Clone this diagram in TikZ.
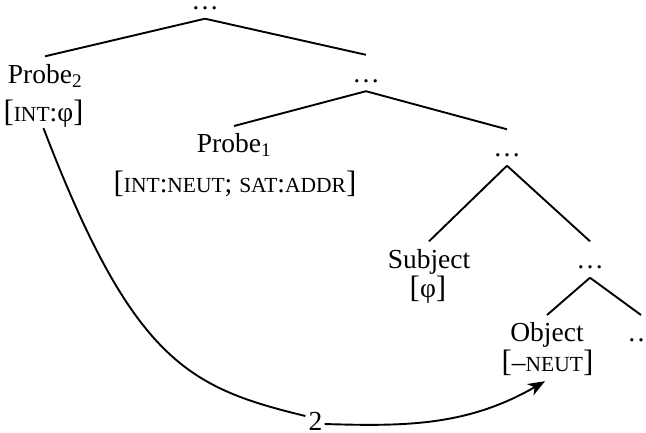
\documentclass[tikz,border=0pt]{standalone}
\usepackage{fontspec}
\setmainfont{Liberation Serif}
\usetikzlibrary{arrows.meta,calc}
% feature names are set in reduced capitals, inside slightly taller brackets
\newcommand\featsc[1]{{\fontsize{21.5bp}{24bp}\selectfont #1}}
\newcommand\fbra{{\fontsize{31bp}{33bp}\selectfont [}}
\newcommand\fket{{\fontsize{31bp}{33bp}\selectfont ]}}

\begin{document}
\begin{tikzpicture}[x=1bp,y=-1bp,
  every node/.style={font=\fontsize{27.5bp}{33bp}\selectfont, inner sep=0pt, anchor=base},
  lbl/.style={text height=26.5bp, text depth=0pt},
  dotnode/.style={text height=27bp, text depth=9bp},
  rootdots/.style={text height=3bp, text depth=9.5bp},
  feat/.style={text height=20bp, text depth=6bp},
  branch/.style={line width=1.9bp},
  agree/.style={line width=1.9bp},
  agreetip/.style={agree, -{Stealth[length=17bp,width=13bp,inset=5bp]}}]

\useasboundingbox (0,0) rectangle (646,432);
\clip (0,0) rectangle (646,432);

% tree labels (placed on their baselines)
\node[rootdots] (d1) at (205,9) {…};
\node[lbl] (p2) at (45,83) {Probe\textsubscript{2}};
\node[feat] (f2) at (43.5,121) {\fbra\featsc{INT}:φ\fket};
\node[dotnode] (d2) at (366,82) {…};
\node[lbl] (p1) at (234,152.7) {Probe\textsubscript{1}};
\node[feat] (f1) at (235,192.3) {\fbra\featsc{INT}:\featsc{NEUT}; \featsc{SAT}:\featsc{ADDR}\fket};
\node[dotnode] (d3) at (507,156.5) {…};
\node[lbl] (subj) at (429,268) {Subject};
\node[feat] (fs) at (428,297) {\fbra φ\fket};
\node[dotnode] (d4) at (590,268.5) {…};
\node[lbl] (obj) at (547,341.7) {Object};
\node[feat] (fo) at (547.5,371) {\fbra–\featsc{NEUT}\fket};
\node[lbl] (d5) at (641,341.7) {…};

% branches
\draw[branch] (d1.south) -- (p2.north);
\draw[branch] (d1.south) -- (d2.north);
\draw[branch] (d2.south) -- (p1.north);
\draw[branch] (d2.south) -- (d3.north);
\draw[branch] (d3.south) -- (subj.north);
\draw[branch] (d3.south) -- (d4.north);
\draw[branch] (d4.south) -- (obj.north);
\draw[branch] (d4.south) -- (d5.north);

% agreement arrow from the higher probe to the object, labelled 2
\node[anchor=center, inner xsep=2bp] (n2) at (315.5,421) {2};
\draw[agree] ($(f2.south)+(0,1)$) .. controls +(89.5,233.5) and +(-116.6,-28.3) ..
  ($(n2.west)+(-1,-5)$);
\draw[agreetip] ($(n2.east)+(0,3)$) .. controls +(80,2.4) and +(-78,45) ..
  ($(fo.south)+(-2.5,4)$);
\end{tikzpicture}
\end{document}
